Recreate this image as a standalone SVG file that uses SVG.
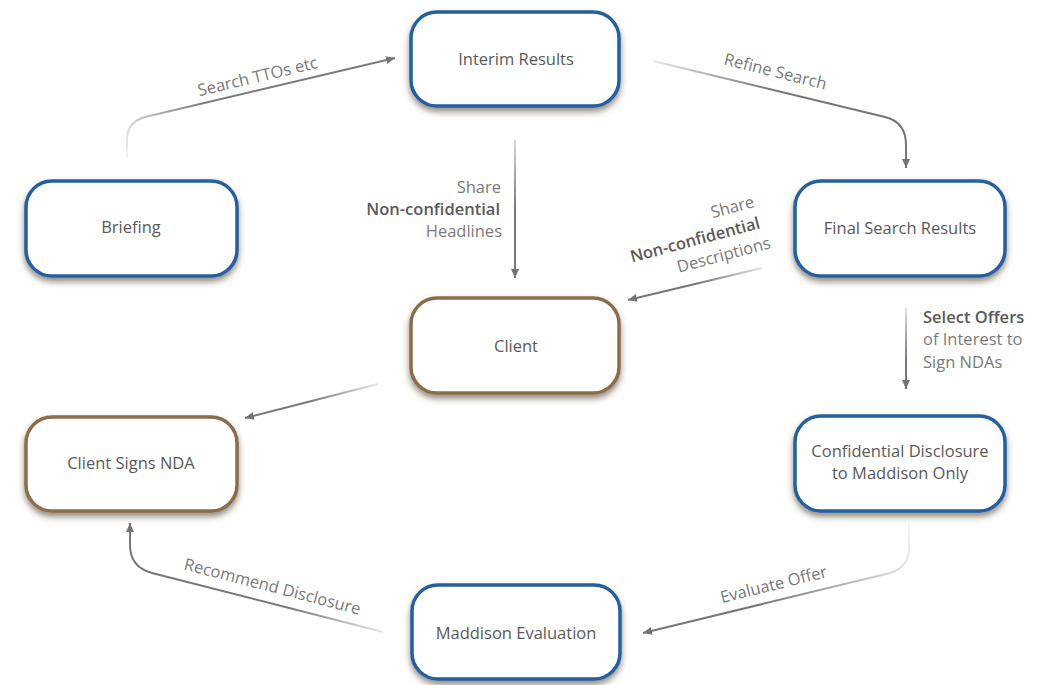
<svg xmlns="http://www.w3.org/2000/svg" width="1045" height="685" viewBox="0 0 1045 685">
<style>
.box{fill:#fff;stroke-width:3.5;filter:url(#sh)}
.blue{stroke:#2460a0}
.brown{stroke:#8c6d48}
.nt{font-family:"Open Sans","Liberation Sans",sans-serif;font-size:16.5px;fill:#5a5a5a;text-anchor:middle}
.lt{font-family:"Open Sans","Liberation Sans",sans-serif;font-size:16.5px;fill:#7a7a7a}
.b{fill:#5a5a5a;font-weight:600}
.c{fill:none;stroke-width:2;marker-end:url(#ah)}
</style>
<defs>
<filter id="sh" x="-20%" y="-20%" width="140%" height="150%">
<feGaussianBlur in="SourceAlpha" stdDeviation="3.2"/>
<feOffset dy="3.5" result="o"/>
<feFlood flood-color="#4a3c2c" flood-opacity="0.6"/>
<feComposite in2="o" operator="in"/>
<feMerge><feMergeNode/><feMergeNode in="SourceGraphic"/></feMerge>
</filter>
<marker id="ah" markerUnits="userSpaceOnUse" markerWidth="10" markerHeight="10" refX="9" refY="4" orient="auto">
<path d="M0,0 L9,4 L0,8 z" fill="#737373"/>
</marker>
<linearGradient id="g1" gradientUnits="userSpaceOnUse" x1="127" y1="158" x2="200" y2="100"><stop offset="0" stop-color="#f2f2f2"/><stop offset="1" stop-color="#7a7a7a"/></linearGradient>
<linearGradient id="g2" gradientUnits="userSpaceOnUse" x1="653" y1="61" x2="770" y2="90"><stop offset="0" stop-color="#e8e8e8"/><stop offset="1" stop-color="#757575"/></linearGradient>
<linearGradient id="g3" gradientUnits="userSpaceOnUse" x1="515" y1="140" x2="515" y2="210"><stop offset="0" stop-color="#d8d8d8"/><stop offset="1" stop-color="#777"/></linearGradient>
<linearGradient id="g4" gradientUnits="userSpaceOnUse" x1="762" y1="268" x2="695" y2="284"><stop offset="0" stop-color="#e0e0e0"/><stop offset="1" stop-color="#777"/></linearGradient>
<linearGradient id="g5" gradientUnits="userSpaceOnUse" x1="906" y1="308" x2="906" y2="360"><stop offset="0" stop-color="#e0e0e0"/><stop offset="1" stop-color="#777"/></linearGradient>
<linearGradient id="g6" gradientUnits="userSpaceOnUse" x1="378" y1="384" x2="310" y2="401"><stop offset="0" stop-color="#e8e8e8"/><stop offset="1" stop-color="#777"/></linearGradient>
<linearGradient id="g7" gradientUnits="userSpaceOnUse" x1="909" y1="522" x2="760" y2="605"><stop offset="0" stop-color="#f4f4f4"/><stop offset="1" stop-color="#777"/></linearGradient>
<linearGradient id="g8" gradientUnits="userSpaceOnUse" x1="383" y1="632" x2="290" y2="608"><stop offset="0" stop-color="#e8e8e8"/><stop offset="1" stop-color="#777"/></linearGradient>
</defs>
<rect width="1045" height="685" fill="#fff"/>

<g id="connectors">
<path class="c" stroke="url(#g1)" d="M127,158 L127,140 Q127,122 145,117 L395,58"/>
<path class="c" stroke="url(#g2)" d="M653,61 L885,117 Q906,122 906,145 L906,168"/>
<path class="c" stroke="url(#g3)" d="M515,140 L515,278"/>
<path class="c" stroke="url(#g4)" d="M762,268 L628,300"/>
<path class="c" stroke="url(#g5)" d="M906,308 L906,389"/>
<path class="c" stroke="url(#g6)" d="M378,384 L245,418"/>
<path class="c" stroke="url(#g7)" d="M909,522 L909,548 Q909,567 890,573 L643,633"/>
<path class="c" stroke="url(#g8)" d="M383,632 L152,573 Q130,567 130,545 L130,523"/>

<text class="lt" text-anchor="middle" transform="translate(259,82) rotate(-13.5)">Search TTOs etc</text>
<text class="lt" text-anchor="middle" transform="translate(774,77) rotate(14)">Refine Search</text>
<text class="lt" text-anchor="end" x="501" y="193">Share</text>
<text class="lt b" text-anchor="end" x="500" y="215">Non-confidential</text>
<text class="lt" text-anchor="end" x="502" y="237">Headlines</text>
<g transform="translate(761,228) rotate(-15)">
<text class="lt" text-anchor="end" x="0" y="-22">Share</text>
<text class="lt b" text-anchor="end" x="0" y="0">Non-confidential</text>
<text class="lt" text-anchor="end" x="5" y="22">Descriptions</text>
</g>
<text class="lt b" x="923" y="323">Select Offers</text>
<text class="lt" x="923" y="345">of Interest to</text>
<text class="lt" x="923" y="368">Sign NDAs</text>
<text class="lt" text-anchor="middle" transform="translate(775,590) rotate(-14)">Evaluate Offer</text>
<text class="lt" text-anchor="middle" transform="translate(271,592) rotate(14.5)">Recommend Disclosure</text>
</g>

<g id="interim"><rect class="box blue" x="411" y="12" width="208" height="94" rx="26"/><text class="nt" x="516" y="65">Interim Results</text></g>
<g id="briefing"><rect class="box blue" x="26" y="181" width="211" height="95" rx="26"/><text class="nt" x="131" y="233">Briefing</text></g>
<g id="final"><rect class="box blue" x="795" y="181" width="210" height="95" rx="26"/><text class="nt" x="900" y="234">Final Search Results</text></g>
<g id="client"><rect class="box brown" x="411" y="298" width="208" height="95" rx="26"/><text class="nt" x="516" y="352">Client</text></g>
<g id="signs"><rect class="box brown" x="26" y="417" width="211" height="94" rx="26"/><text class="nt" x="131" y="469">Client Signs NDA</text></g>
<g id="confidential"><rect class="box blue" x="795" y="416" width="210" height="95" rx="26"/><text class="nt" x="900" y="457">Confidential Disclosure</text><text class="nt" x="900" y="479">to Maddison Only</text></g>
<g id="maddison"><rect class="box blue" x="412" y="585" width="208" height="94" rx="26"/><text class="nt" x="516" y="639">Maddison Evaluation</text></g>
</svg>
